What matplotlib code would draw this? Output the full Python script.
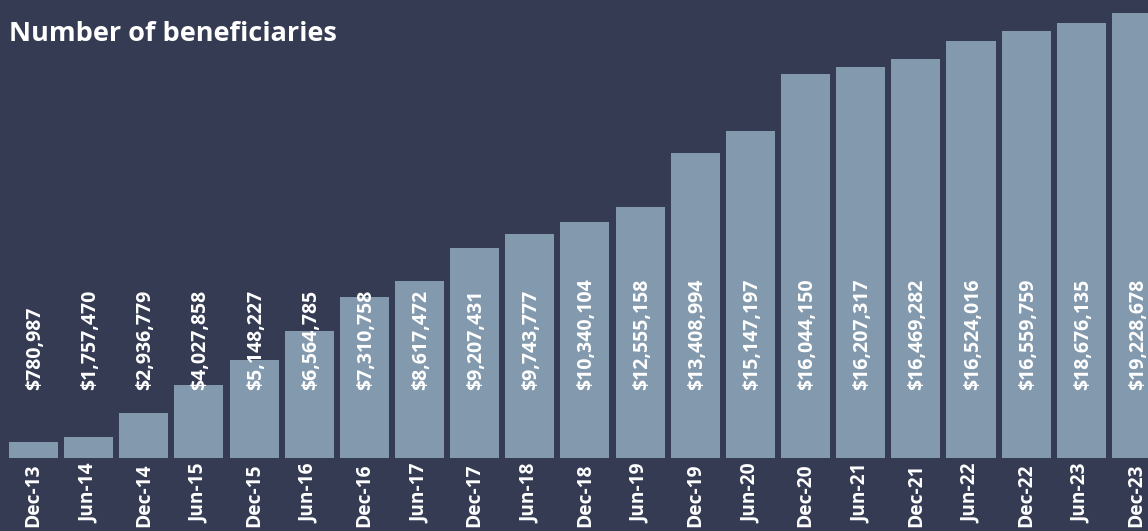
import matplotlib.pyplot as plt

periods = ["Dec-13", "Jun-14", "Dec-14", "Jun-15", "Dec-15", "Jun-16", "Dec-16",
           "Jun-17", "Dec-17", "Jun-18", "Dec-18", "Jun-19", "Dec-19", "Jun-20",
           "Dec-20", "Jun-21", "Dec-21", "Jun-22", "Dec-22", "Jun-23", "Dec-23"]

# bar heights (relative scale, no axis shown)
beneficiaries = [16, 21, 45, 73, 98, 127, 161, 177, 210, 224, 236, 251, 305, 327,
                 384, 391, 399, 417, 427, 435, 445]

amounts = ["$780,987", "$1,757,470", "$2,936,779", "$4,027,858", "$5,148,227",
           "$6,564,785", "$7,310,758", "$8,617,472", "$9,207,431", "$9,743,777",
           "$10,340,104", "$12,555,158", "$13,408,994", "$15,147,197", "$16,044,150",
           "$16,207,317", "$16,469,282", "$16,524,016", "$16,559,759", "$18,676,135",
           "$19,228,678"]

bg = "#343b53"
bar_color = "#8399ad"
font = ["Open Sans", "DejaVu Sans"]

fig = plt.figure(figsize=(11.48, 5.31), dpi=100, facecolor=bg)
ax = fig.add_axes([0, 73 / 531, 1, 458 / 531])
ax.set_facecolor(bg)

x = list(range(len(periods)))
ax.bar(x, beneficiaries, width=0.89, color=bar_color)

for i, label in enumerate(amounts):
    ax.text(i + 0.03, 68, label, rotation=90, ha="center", va="bottom",
            color="white", fontsize=14, fontweight="bold", family=font)

ax.set_xlim(-0.607, 20.21)
ax.set_ylim(0, 458)
ax.set_xticks(x)
ax.set_xticklabels(periods, rotation=90, color="white", fontsize=13.8,
                   fontweight="bold", family=font)
ax.tick_params(axis="x", length=0, pad=4)
ax.set_yticks([])
for s in ax.spines.values():
    s.set_visible(False)

fig.text(9 / 1148, 1 - 41 / 531, "Number of beneficiaries", ha="left", va="baseline",
         color="white", fontsize=19.5, fontweight="bold", family=font)

fig.savefig("out.png", dpi=100, facecolor=bg)
